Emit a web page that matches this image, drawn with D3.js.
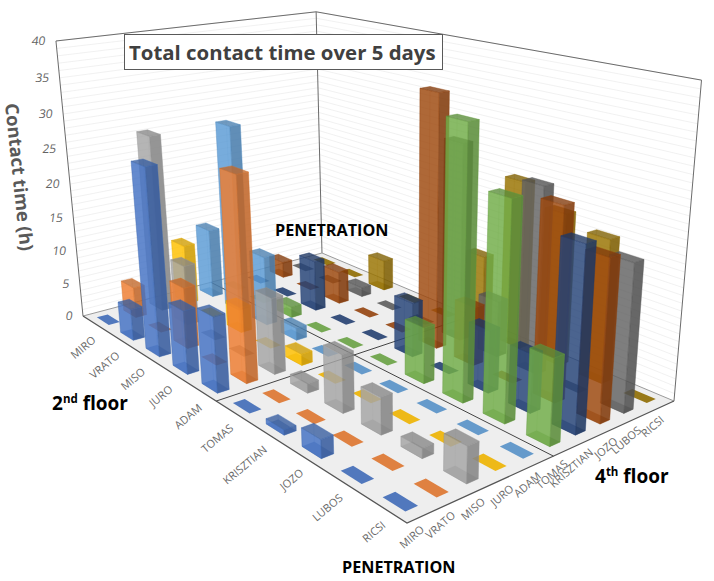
<!DOCTYPE html>
<html>
<head>
<meta charset="utf-8">
<script src="https://d3js.org/d3.v7.min.js"></script>
<style>
  html, body { margin: 0; padding: 0; background: #fff; }
  svg { display: block; }
  text { font-family: "Open Sans", "Noto Sans", sans-serif; }
</style>
</head>
<body>
<svg></svg>
<script>
var people = ['MIRO', 'VRATO', 'MISO', 'JURO', 'ADAM', 'TOMAS', 'KRISZTIAN', 'JOZO', 'LUBOS', 'RICSI'];

// hours per column (one list per person on the right hand axis), ordered by the left hand axis
var miro      = [0, 4.6, 26.4, 8.9, 10.4, 0, 0.7, 2.4, 0, 0];
var vrato     = [4.6, 0, 8.8, 0, 27.7, 0, 0, 0, 0, 0];
var miso      = [26.3, 8.9, 0, 0, 10.6, 1.3, 7.8, 4.9, 1.3, 4.6];
var juro      = [9, 0, 3.7, 0, 1.6, 0, 0, 0, 0, 0];
var adam      = [10.5, 27.7, 10.2, 1.8, 0, 0, 0, 0, 0, 0];
var tomas     = [0, 0, 1.6, 0, 0, 0, 7.7, 35.4, 28, 11.1];
var krisztian = [0, 0, 7.6, 0, 0, 7.7, 0, 8.5, 7.8, 23.6];
var jozo      = [2.5, 0, 4.9, 0, 0, 35.3, 8.2, 0, 25.5, 21];
var lubos     = [0, 0, 1.4, 0, 0, 28, 7.9, 25.4, 0, 19.4];
var ricsi     = [0, 0, 4.7, 0, 0, 11.2, 23.5, 20.9, 19.4, 0];
var columns = [miro, vrato, miso, juro, adam, tomas, krisztian, jozo, lubos, ricsi];

var colors = ['#4472C4', '#ED7D31', '#A5A5A5', '#FFC000', '#5B9BD5', '#70AD47', '#264478', '#9E480E', '#636363', '#997300'];

var width = 714;
var height = 581;
var svg = d3.select('svg').attr('width', width).attr('height', height);

// u runs along the left floor edge, v along the right one, z goes up
var rowScale = d3.scaleBand().domain(people).range([0, 1]);
var zScale = d3.scaleLinear().domain([0, 40]).range([0, 1]);
var halfU = 0.0255;
var halfV = 0.02;

// camera matrix fitted to the corners of the floor and the walls
function project(u, v, z) {
  var w = -0.30211 * u + 0.14961 * v - 0.078 * z + 1;
  return [
    (201.04 * u + 287.17 * v - 31.4 * z + 83) / w,
    (49 * u - 25.15 * v - 278.2 * z + 316) / w
  ];
}

var line = d3.line();
function quad(points) {
  return line(points.map(function(p) { return project(p[0], p[1], p[2]); })) + 'Z';
}

// walls and floor
svg.append('path').attr('d', quad([[0, 0, 0], [0, 1, 0], [0, 1, 1], [0, 0, 1]])).attr('fill', '#fff');
svg.append('path').attr('d', quad([[0, 1, 0], [1, 1, 0], [1, 1, 1], [0, 1, 1]])).attr('fill', '#fff');
svg.append('path').attr('d', quad([[0, 0, 0], [1, 0, 0], [1, 1, 0], [0, 1, 0]])).attr('fill', '#eeeeee');

var grid = svg.append('g').attr('fill', 'none').attr('stroke', '#eeeeee').attr('stroke-width', 0.8);
zScale.ticks(40).forEach(function(t) {
  if (t === 0) return;
  var z = zScale(t);
  grid.append('path').attr('d', line([project(0, 0, z), project(0, 1, z), project(1, 1, z)]));
});

var frame = svg.append('g').attr('fill', 'none').attr('stroke', '#6b6b6b').attr('stroke-width', 1);
frame.append('path').attr('d', line([project(0, 0, 0), project(0, 0, 1), project(0, 1, 1), project(1, 1, 1), project(1, 1, 0)]));
frame.append('path').attr('d', line([project(0, 1, 1), project(0, 1, 0)]));
frame.append('path').attr('d', line([project(0, 0, 0), project(0, 1, 0), project(1, 1, 0)])).attr('stroke', '#9a9a9a');
frame.append('path').attr('d', line([project(0, 0, 0), project(1, 0, 0), project(1, 1, 0)])).attr('stroke', '#555').attr('stroke-width', 1.3);
// floor split between the two storeys
frame.append('path').attr('d', line([project(0.5, 0, 0), project(0.5, 1, 0)])).attr('stroke', '#444');
frame.append('path').attr('d', line([project(0, 0.5, 0), project(1, 0.5, 0)])).attr('stroke', '#444');

// bars, far ones first
var bars = svg.append('g');
var cells = [];
d3.range(10).forEach(function(r) {
  d3.range(9, -1, -1).forEach(function(c) {
    cells.push({ r: r, c: c, value: columns[c][r] });
  });
});

cells.forEach(function(d) {
  var u = rowScale(people[d.r]) + rowScale.bandwidth() / 2;
  var v = rowScale(people[d.c]) + rowScale.bandwidth() / 2;
  var z = zScale(d.value);
  var u0 = u - halfU, u1 = u + halfU, v0 = v - halfV, v1 = v + halfV;
  var base = d3.color(colors[d.c]);
  var dark = base.darker(0.6).formatHex();
  var edge = base.darker(0.3).formatHex();

  if (d.value === 0) {
    bars.append('path')
      .attr('d', quad([[u0, v0, 0], [u1, v0, 0], [u1, v1, 0], [u0, v1, 0]]))
      .attr('fill', base.darker(0.2).formatHex())
      .attr('fill-opacity', 0.9);
    return;
  }

  var faces = [
    { pts: [[u0, v0, 0], [u1, v0, 0], [u1, v1, 0], [u0, v1, 0]], fill: dark, op: 0.6, line: 0.1 },
    { pts: [[u0, v0, 0], [u0, v1, 0], [u0, v1, z], [u0, v0, z]], fill: base.formatHex(), op: 0.15, line: 0.1 },
    { pts: [[u0, v1, 0], [u1, v1, 0], [u1, v1, z], [u0, v1, z]], fill: base.formatHex(), op: 0.15, line: 0.1 },
    { pts: [[u0, v0, 0], [u1, v0, 0], [u1, v0, z], [u0, v0, z]], fill: base.formatHex(), op: 0.8, line: 0.5 },
    { pts: [[u1, v0, 0], [u1, v1, 0], [u1, v1, z], [u1, v0, z]], fill: dark, op: 0.85, line: 0.5 },
    { pts: [[u0, v0, z], [u1, v0, z], [u1, v1, z], [u0, v1, z]], fill: dark, op: 0.75, line: 0.5 }
  ];
  faces.forEach(function(f) {
    bars.append('path')
      .attr('d', quad(f.pts))
      .attr('fill', f.fill)
      .attr('fill-opacity', f.op)
      .attr('stroke', edge)
      .attr('stroke-opacity', f.line)
      .attr('stroke-width', 0.7);
  });
});

// value axis labels
var zTicks = svg.append('g').attr('fill', '#636363').style('font-size', '12px').attr('text-anchor', 'end');
zScale.ticks(8).forEach(function(t) {
  var p = project(0, 0, zScale(t));
  zTicks.append('text')
    .attr('transform', 'translate(' + (p[0] - 11) + ',' + (p[1] + 4) + ') skewX(-8)')
    .text(t);
});

// category labels on both floor edges
var catLabels = svg.append('g').attr('fill', '#6a6a6a').style('font-size', '11px').attr('text-anchor', 'end');
people.forEach(function(name) {
  var mid = rowScale(name) + rowScale.bandwidth() / 2;
  var a = project(mid, 0, 0);
  catLabels.append('text')
    .attr('transform', 'translate(' + (a[0] + 2) + ',' + (a[1] + 18) + ') rotate(-40)')
    .text(name);
  var b = project(1, mid, 0);
  catLabels.append('text')
    .attr('transform', 'translate(' + (b[0] + 2) + ',' + (b[1] + 15) + ') rotate(-41)')
    .text(name);
});

// title box
svg.append('rect')
  .attr('x', 124.5).attr('y', 34.5).attr('width', 318).attr('height', 35)
  .attr('fill', '#fff').attr('stroke', '#595959').attr('stroke-width', 1);
svg.append('text')
  .attr('x', 129).attr('y', 60)
  .attr('fill', '#404040')
  .style('font-size', '20.4px').style('font-weight', 700)
  .text('Total contact time over 5 days');

svg.append('text')
  .attr('transform', 'translate(5,104) rotate(84)')
  .attr('fill', '#595959')
  .style('font-size', '18.4px').style('font-weight', 700)
  .text('Contact time (h)');

var labels = svg.append('g').attr('fill', '#000').style('font-weight', 700);
labels.append('text').attr('x', 275).attr('y', 236).style('font-size', '16.2px').text('PENETRATION');
labels.append('text').attr('x', 342).attr('y', 573).style('font-size', '16.2px').text('PENETRATION');

function floorLabel(x, y, num, sup) {
  var t = labels.append('text').attr('x', x).attr('y', y).style('font-size', '19px');
  t.append('tspan').text(num);
  t.append('tspan').attr('dy', -7).style('font-size', '11.5px').text(sup);
  t.append('tspan').attr('dy', 7).text(' floor');
}
floorLabel(52, 410, '2', 'nd');
floorLabel(595, 483, '4', 'th');
</script>
</body>
</html>
